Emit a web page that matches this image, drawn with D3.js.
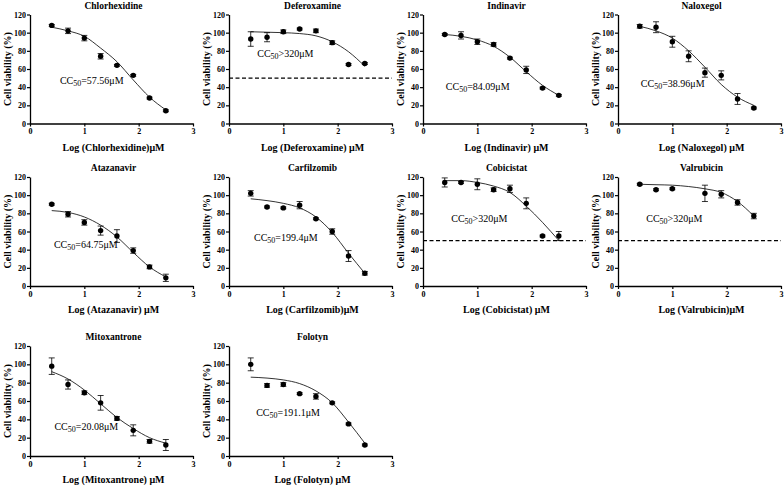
<!DOCTYPE html>
<html>
<head>
<meta charset="utf-8">
<script src="https://cdn.jsdelivr.net/npm/d3@7"></script>
<style>
  body { margin: 0; background: #fff; }
  svg text { font-family: "Liberation Serif", "Times New Roman", serif; fill: #000; }
</style>
</head>
<body>
<div id="chart"></div>
<script>
// log10 of concentration (2.5 ... 320 uM)
var logDose = [0.4, 0.7, 1.0, 1.3, 1.6, 1.9, 2.2, 2.5];

var drugs = ["Chlorhexidine", "Deferoxamine", "Indinavir", "Naloxegol",
             "Atazanavir", "Carfilzomib", "Cobicistat", "Valrubicin",
             "Mitoxantrone", "Folotyn"];

var xLabels = ["Log (Chlorhexidine)μM", "Log (Deferoxamine) μM", "Log (Indinavir) μM", "Log (Naloxegol) μM",
               "Log (Atazanavir) μM", "Log (Carfilzomib)μM", "Log (Cobicistat) μM", "Log (Valrubicin)μM",
               "Log (Mitoxantrone) μM", "Log (Folotyn) μM"];

var viability = [
  [108, 102, 94, 74, 64, 53, 28, 14],
  [93, 95, 101, 104, 102, 89, 65, 66],
  [98, 97, 90, 87, 72, 59, 39, 31],
  [107, 106, 90, 74, 56, 53, 27, 17],
  [90, 79, 70, 61, 55, 39, 21, 9],
  [102, 87, 86, 89, 74, 60, 33, 14],
  [114, 114, 112, 106, 107, 91, 55, 55],
  [112, 106, 107, null, 102, 101, 92, 77],
  [98, 78, 69, 58, 41, 28, 16, 12],
  [100, 77, 78, 68, 65, 58, 35, 12]
];

var sem = [
  [1, 3, 3, 3, 1, 1, 1, 1],
  [8, 5, 2, 1, 2, 2, 1, 1],
  [1, 4, 3, 2, 1, 4, 1, 1],
  [2, 6, 6, 6, 5, 5, 6, 1],
  [1, 3, 3, 5, 7, 3, 2, 4],
  [3, 1, 1, 4, 1, 3, 6, 2],
  [5, 1, 6, 2, 4, 6, 1, 5],
  [1, 1, 1, null, 9, 4, 3, 3],
  [9, 5, 2, 8, 2, 6, 2, 6],
  [7, 2, 2, 1, 3, 1, 1, 1]
];

// fitted curve at each dose
var fitCurve = [
  [106, 102, 96, 83, 68, 48, 29, 15],
  [101, 100.5, 100, 99, 96.5, 90, 79, 63],
  [98, 96, 92, 85, 73, 57, 42, 31],
  [107, 102, 94, 80, 62, 43, 29, 20],
  [83, 81, 76, 67, 54, 37, 21, 10],
  [96, 94, 91, 86, 76, 59, 36, 14],
  [116, 116, 114, 110, 103, 88, 70, 50],
  [112, 111.5, 111, 109.5, 107, 103, 93, 77],
  [92, 84, 72, 57, 42, 30, 20, 14],
  [86, 85, 83, 79, 71, 58, 37, 14]
];

var cc50Value = ["=57.56μM", ">320μM", "=84.09μM", "=38.96μM", "=64.75μM",
                 "=199.4μM", ">320μM", ">320μM", "=20.08μM", "=191.1μM"];
var hasCutoff = [false, true, false, false, false, false, true, true, false, false];

var yTicks = [0, 20, 40, 60, 80, 100, 120];
var xTicks = [0, 1, 2, 3];

// layout
var W = 784, H = 486;
var FONT = "'Liberation Serif', 'Times New Roman', serif";
var colX = [30, 229, 423, 618];
var rowY = [[14.5, 123.5], [177, 286], [346, 456]];
var plotW = 163;
// label anchor in data units [logDose, viability]
var labelAt = [[0.55, 43], [0.52, 73], [0.42, 37], [0.42, 40], [0.44, 42],
               [0.46, 49], [0.52, 71], [0.52, 71], [0.45, 28], [0.5, 44]];

var svg = d3.select("#chart").append("svg")
    .attr("width", W)
    .attr("height", H);

drugs.forEach(function(name, i) {
  var col = i % 4, row = Math.floor(i / 4);
  var x0 = colX[col], yTop = rowY[row][0], yBot = rowY[row][1];

  var x = d3.scaleLinear().domain([0, 3]).range([x0, x0 + plotW]);
  var y = d3.scaleLinear().domain([0, 120]).range([yBot, yTop]);

  var g = svg.append("g");

  // axes
  var xAxis = g.append("g")
      .attr("transform", "translate(0," + yBot + ")")
      .call(d3.axisBottom(x).tickValues(xTicks).tickFormat(d3.format("d")).tickSize(3).tickSizeOuter(0).tickPadding(2));
  var yAxis = g.append("g")
      .attr("transform", "translate(" + x0 + ",0)")
      .call(d3.axisLeft(y).tickValues(yTicks).tickSize(3).tickSizeOuter(0).tickPadding(1));
  [xAxis, yAxis].forEach(function(a) {
    a.select(".domain").attr("stroke", "#000").attr("stroke-width", 1.3);
    a.selectAll(".tick line").attr("stroke", "#000").attr("stroke-width", 1.2);
    a.selectAll(".tick text")
      .style("font-family", FONT)
      .style("font-weight", "bold")
      .style("font-size", "8px")
      .attr("fill", "#000");
  });

  // title
  g.append("text")
    .attr("x", x0 + plotW / 2 + 2)
    .attr("y", yTop - 6)
    .attr("text-anchor", "middle")
    .style("font-family", FONT)
    .style("font-weight", "bold")
    .style("font-size", "9.5px")
    .text(name);

  // x label
  g.append("text")
    .attr("x", x0 + plotW / 2 + 2)
    .attr("y", yBot + 27)
    .attr("text-anchor", "middle")
    .style("font-family", FONT)
    .style("font-weight", "bold")
    .style("font-size", "10px")
    .text(xLabels[i]);

  // y label
  g.append("text")
    .attr("transform", "translate(" + (x0 - 19) + "," + ((yTop + yBot) / 2) + ") rotate(-90)")
    .attr("text-anchor", "middle")
    .style("font-family", FONT)
    .style("font-weight", "bold")
    .style("font-size", "10px")
    .text("Cell viability (%)");

  // 50% cut-off
  if (hasCutoff[i]) {
    g.append("line")
      .attr("x1", x(0)).attr("x2", x(3))
      .attr("y1", y(50)).attr("y2", y(50))
      .attr("stroke", "#000")
      .attr("stroke-width", 1.2)
      .attr("stroke-dasharray", "4,2.5");
  }

  // fit curve
  var line = d3.line()
    .x(function(d, j) { return x(logDose[j]); })
    .y(function(d) { return y(d); })
    .curve(d3.curveMonotoneX);
  g.append("path")
    .attr("d", line(fitCurve[i]))
    .attr("fill", "none")
    .attr("stroke", "#000")
    .attr("stroke-width", 0.8);

  // points + error bars
  var pts = logDose.map(function(d, j) { return {x: d, v: viability[i][j], e: sem[i][j]}; })
    .filter(function(p) { return p.v !== null; });

  var eb = g.selectAll(".eb").data(pts).enter().append("g");
  eb.append("line")
    .attr("x1", function(p) { return x(p.x); }).attr("x2", function(p) { return x(p.x); })
    .attr("y1", function(p) { return y(p.v - p.e); }).attr("y2", function(p) { return y(p.v + p.e); })
    .attr("stroke", "#000").attr("stroke-width", 0.8);
  [-1, 1].forEach(function(s) {
    eb.append("line")
      .attr("x1", function(p) { return x(p.x) - 3; }).attr("x2", function(p) { return x(p.x) + 3; })
      .attr("y1", function(p) { return y(p.v + s * p.e); }).attr("y2", function(p) { return y(p.v + s * p.e); })
      .attr("stroke", "#000").attr("stroke-width", 0.8);
  });
  g.selectAll(".pt").data(pts).enter().append("circle")
    .attr("cx", function(p) { return x(p.x); })
    .attr("cy", function(p) { return y(p.v); })
    .attr("r", 2.7)
    .attr("fill", "#000");

  // CC50 label
  var t = g.append("text")
    .attr("x", x(labelAt[i][0]))
    .attr("y", y(labelAt[i][1]))
    .style("font-family", FONT)
    .style("font-size", "10px");
  t.append("tspan").text("CC");
  t.append("tspan").attr("dy", 2).style("font-size", "8px").text("50");
  t.append("tspan").attr("dy", -2).text(cc50Value[i]);
});
</script>
</body>
</html>
